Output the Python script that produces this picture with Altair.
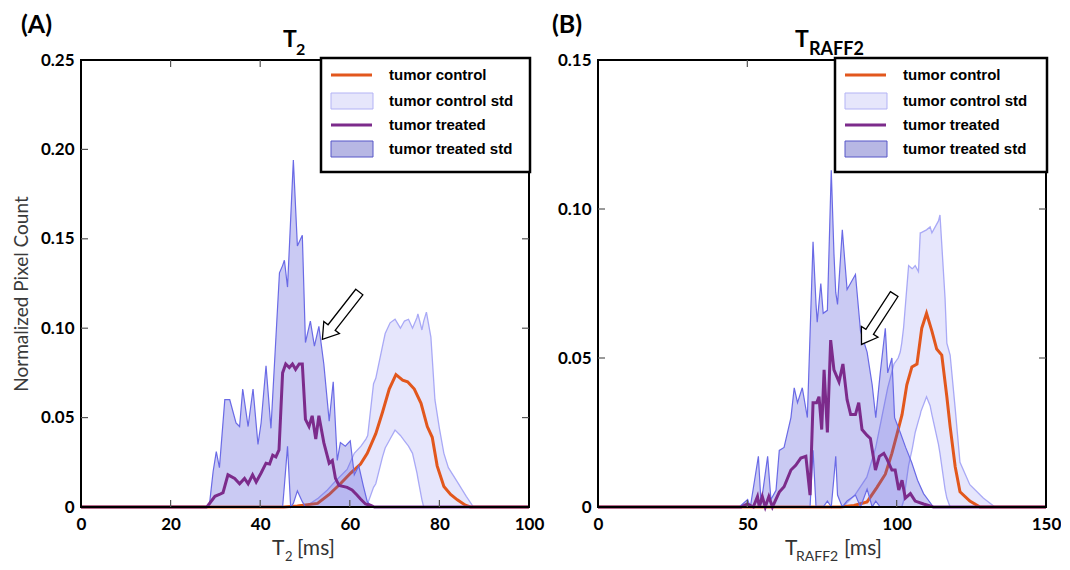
import altair as alt
import pandas as pd

# ---------------- Panel A : T2 ----------------
A_ctrl_mean_x = [0, 45.3, 48.3, 52.8, 55.4, 57.9, 60.2, 62.4, 63.9, 65.8, 67.3, 68.8, 70.3, 71.8, 72.9, 74.4,
                 75.9, 77.3, 78.4, 79.5, 81.0, 82.5, 84.0, 85.8, 86.9, 100]
A_ctrl_mean_y = [0, 0, 0.0005, 0.002, 0.007, 0.013, 0.019, 0.024, 0.030, 0.041, 0.053, 0.066, 0.074, 0.071, 0.070,
                 0.066, 0.058, 0.045, 0.039, 0.023, 0.0115, 0.007, 0.004, 0.001, 0, 0]

A_ctrl_band_x = [50.0, 53.0, 55.0, 57.0, 59.4, 61.0, 62.5, 63.6, 64.0, 65.3, 65.8, 67.3, 67.9, 69.0, 70.1, 71.3,
                 72.2, 73.1, 74.0, 75.0, 75.2, 76.1, 76.5, 77.1, 78.1, 79.0, 80.0, 81.0, 82.0, 84.0, 86.0, 87.6]
A_ctrl_upper = [0, 0.005, 0.0095, 0.015, 0.021, 0.030, 0.034, 0.038, 0.040, 0.069, 0.072, 0.090, 0.097, 0.103,
                0.105, 0.100, 0.104, 0.105, 0.100, 0.106, 0.108, 0.099, 0.104, 0.109, 0.095, 0.060, 0.044, 0.030,
                0.022, 0.014, 0.006, 0]
A_ctrl_lower = [0, 0, 0, 0, 0, 0, 0, 0, 0.002, 0.011, 0.013, 0.028, 0.033, 0.038, 0.043, 0.040, 0.037, 0.034,
                0.030, 0.019, 0.016, 0.004, 0, 0, 0, 0, 0, 0, 0, 0, 0, 0]

A_trt_mean_x = [0, 28.0, 28.4, 29.9, 30.9, 31.7, 32.8, 34.3, 35.4, 36.5, 37.3, 38.3, 39.1, 40.2, 41.3, 42.1, 42.8,
                43.5, 44.2, 45.0, 45.7, 46.5, 47.2, 47.9, 48.7, 49.4, 50.1, 50.9, 51.6, 52.4, 53.1, 54.2, 55.4,
                56.1, 56.8, 57.6, 59.4, 60.5, 61.6, 62.4, 63.5, 64.6, 65.5, 100]
A_trt_mean_y = [0, 0, 0.001, 0.006, 0.007, 0.008, 0.018, 0.016, 0.013, 0.016, 0.013, 0.018, 0.014, 0.019, 0.0245,
                0.024, 0.029, 0.028, 0.032, 0.075, 0.080, 0.078, 0.080, 0.077, 0.080, 0.080, 0.049, 0.045, 0.051,
                0.038, 0.051, 0.036, 0.0245, 0.026, 0.016, 0.012, 0.011, 0.0095, 0.0067, 0.0045, 0.0017, 0.001, 0, 0]

A_trt_band_x = [28.0, 28.7, 29.5, 30.2, 30.9, 32.1, 33.2, 34.6, 35.4, 36.1, 37.3, 38.4, 39.5, 40.2, 41.3, 42.4,
                44.3, 45.0, 45.4, 46.1, 46.8, 47.4, 48.3, 49.4, 50.1, 51.2, 52.1, 53.1, 54.2, 55.4, 56.3, 57.2,
                57.9, 59.0, 60.1, 61.0, 62.0, 63.0, 63.9, 65.0]
A_trt_upper = [0, 0.002, 0.020, 0.031, 0.022, 0.060, 0.060, 0.047, 0.045, 0.066, 0.045, 0.066, 0.035, 0.047,
               0.079, 0.044, 0.131, 0.135, 0.138, 0.123, 0.161, 0.194, 0.146, 0.152, 0.092, 0.104, 0.090, 0.101,
               0.080, 0.048, 0.070, 0.026, 0.036, 0.034, 0.037, 0.018, 0.023, 0.012, 0.003, 0]
A_trt_lower = [0, 0, 0, 0, 0, 0, 0, 0, 0, 0, 0, 0, 0, 0, 0, 0, 0, 0, 0.012, 0.034, 0, 0.002, 0.009, 0.003,
               0, 0, 0, 0, 0, 0, 0, 0, 0, 0, 0, 0, 0, 0, 0, 0]

A_x_labels = [0, 20, 40, 60, 80, 100]
A_y_labels = [0, 0.05, 0.10, 0.15, 0.20, 0.25]
A_x_ticks = [20, 40, 60, 80]
A_y_ticks = [0.05, 0.10, 0.15, 0.20]
A_arrow_at = [58.0, 0.107]

# ---------------- Panel B : TRAFF2 ----------------
B_ctrl_mean_x = [0, 81.2, 85.7, 90.1, 93.4, 96.2, 98.4, 100.0, 101.8, 103.4, 105.1, 106.8, 108.4, 110.0, 111.8,
                 113.4, 115.1, 116.8, 117.9, 119.6, 121.2, 124.5, 127.9, 150]
B_ctrl_mean_y = [0, 0, 0.0005, 0.0017, 0.0066, 0.011, 0.018, 0.024, 0.031, 0.041, 0.047, 0.048, 0.060, 0.065,
                 0.059, 0.053, 0.051, 0.037, 0.027, 0.0135, 0.0051, 0.002, 0, 0]

B_ctrl_band_x = [82.0, 86.0, 90.0, 93.0, 95.0, 97.0, 99.1, 100.5, 101.2, 101.7, 102.3, 104.0, 105.1, 105.3, 106.2,
                 107.3, 107.9, 108.1, 110.0, 111.2, 111.8, 114.0, 114.5, 116.2, 116.8, 117.9, 119.6, 121.2, 124.5,
                 129.0, 132.9]
B_ctrl_upper = [0, 0.004, 0.010, 0.020, 0.030, 0.040, 0.048, 0.050, 0.052, 0.055, 0.060, 0.081, 0.080, 0.080,
                0.081, 0.079, 0.092, 0.092, 0.093, 0.094, 0.092, 0.096, 0.098, 0.070, 0.055, 0.051, 0.033, 0.015,
                0.0075, 0.003, 0]
B_ctrl_lower = [0, 0, 0, 0, 0, 0, 0, 0, 0, 0, 0.002, 0.014, 0.019, 0.020, 0.025, 0.029, 0.031, 0.032, 0.037,
                0.034, 0.031, 0.021, 0.018, 0.006, 0.003, 0, 0, 0, 0, 0, 0]

B_trt_mean_x = [0, 47.9, 50.0, 52.0, 53.4, 54.0, 55.0, 56.0, 57.2, 58.4, 60.7, 62.3, 64.6, 66.2, 67.9, 69.6, 71.0,
                72.0, 73.2, 74.0, 74.9, 75.7, 76.8, 77.9, 79.0, 80.7, 82.0, 83.4, 84.6, 86.2, 87.3, 88.4, 90.1,
                91.2, 92.9, 94.2, 95.7, 96.8, 98.4, 99.5, 100.7, 101.8, 102.9, 104.6, 106.2, 109.0, 112.3, 150]
B_trt_mean_y = [0, 0, 0.001, 0, 0.0035, 0, 0.0035, 0, 0.0035, 0, 0.005, 0.0068, 0.0124, 0.014, 0.0164, 0.017,
                0.004, 0.035, 0.035, 0.037, 0.026, 0.046, 0.025, 0.056, 0.046, 0.042, 0.048, 0.036, 0.031, 0.031,
                0.035, 0.026, 0.024, 0.023, 0.0124, 0.017, 0.018, 0.016, 0.0124, 0.0124, 0.0057, 0.009, 0.003,
                0.0045, 0.002, 0.001, 0, 0]

B_trt_band_x = [47.3, 50.1, 51.0, 53.7, 54.6, 56.8, 57.9, 59.6, 60.7, 62.3, 64.6, 65.7, 66.8, 68.4, 70.1, 71.0,
                72.0, 73.0, 73.4, 74.6, 75.4, 76.8, 78.1, 79.0, 79.6, 80.2, 81.8, 83.4, 86.2, 87.9, 90.1, 91.8,
                93.0, 94.5, 96.2, 97.0, 98.4, 99.3, 101.2, 103.0, 105.0, 107.0, 109.0, 112.3]
B_trt_upper = [0, 0.0025, 0, 0.017, 0.001, 0.017, 0.0025, 0.0056, 0.019, 0.020, 0.030, 0.040, 0.035, 0.040,
               0.030, 0.058, 0.089, 0.068, 0.062, 0.075, 0.065, 0.066, 0.113, 0.085, 0.072, 0.068, 0.093, 0.073,
               0.078, 0.059, 0.052, 0.041, 0.030, 0.045, 0.060, 0.045, 0.050, 0.030, 0.025, 0.020, 0.015, 0.009,
               0.0045, 0]
B_trt_lower = [0, 0, 0, 0, 0, 0, 0, 0, 0, 0, 0, 0, 0, 0, 0, 0, 0.019, 0, 0, 0, 0, 0.002, 0, 0.010, 0.017,
               0.004, 0, 0.002, 0.004, 0, 0.006, 0, 0.002, 0, 0, 0, 0, 0, 0, 0, 0, 0, 0, 0]

B_x_labels = [0, 50, 100, 150]
B_y_labels = [0, 0.05, 0.10, 0.15]
B_x_ticks = [50, 100]
B_y_ticks = [0.05, 0.10]
B_arrow_at = [93.7, 0.063]

LEGEND_LABELS = ["tumor control", "tumor control std", "tumor treated", "tumor treated std"]

# ---------------- styles ----------------
ORANGE = "#E2571D"
PURPLE = "#7C2B8B"
CTRL_FILL = "#8080F0"
CTRL_EDGE = "#A9A9F6"
TRT_FILL = "#5050D8"
TRT_EDGE = "#6A6AE6"
NUMFONT = "Lato"
LEGFONT = "Liberation Sans"
H = 447
ARROW = "M -0.15 -1 L 0.15 -1 L 0.15 0.5 L 0.33 0.5 L 0 1 L -0.33 0.5 L -0.15 0.5 Z"
DUMMY = alt.Data(values=[{"k": 0}])


def txt(s, x, y, size, weight="normal", font=NUMFONT, color="black", align="left"):
    return alt.Chart(DUMMY).mark_text(text=s, fontSize=size, fontWeight=weight, font=font, color=color,
                                      align=align, baseline="alphabetic").encode(
        x=alt.value(x), y=alt.value(y))


def panel(d, W, xmax, ymax, ytitle, letter, letter_x, leg_left, title_parts, xtitle_parts, arrow_angle):
    xs = alt.Scale(domain=[0, xmax], nice=False, zero=False)
    ys = alt.Scale(domain=[0, ymax], nice=False)
    xax = alt.Axis(values=d["xl"], ticks=False, domain=False, grid=False, labelFont=NUMFONT,
                   labelFontSize=17, labelFontWeight="bold", labelColor="black", labelPadding=9,
                   labelFlush=False, title=None)
    yargs = dict(values=d["yl"], ticks=False, domain=False, grid=False, labelFont=NUMFONT,
                 labelFontSize=17, labelFontWeight="bold", labelColor="black", labelPadding=7,
                 labelExpr="datum.value == 0 ? '0' : format(datum.value, '.2f')")
    if ytitle:
        yax = alt.Axis(title=ytitle, titleFont=NUMFONT, titleFontSize=19, titleFontWeight="normal",
                       titleColor="#3a3a3a", titlePadding=9, titleY=H / 2 + 10, **yargs)
    else:
        yax = alt.Axis(title=None, **yargs)

    def X(f="x"):
        return alt.X(f + ":Q", scale=xs, axis=xax)

    def Y(f="y"):
        return alt.Y(f + ":Q", scale=ys, axis=yax)

    cband = pd.DataFrame({"x": d["cbx"], "hi": d["cbh"], "lo": d["cbl"]})
    tband = pd.DataFrame({"x": d["tbx"], "hi": d["tbh"], "lo": d["tbl"]})
    cmean = pd.DataFrame({"x": d["cmx"], "y": d["cmy"]})
    tmean = pd.DataFrame({"x": d["tmx"], "y": d["tmy"]})

    layers = [
        alt.Chart(cband).mark_area(color=CTRL_FILL, opacity=0.2).encode(x=X(), y=Y("hi"), y2="lo:Q"),
        alt.Chart(cband).mark_line(color=CTRL_EDGE, strokeWidth=1.3).encode(x=X(), y=Y("hi")),
        alt.Chart(cband).mark_line(color=CTRL_EDGE, strokeWidth=1.3).encode(x=X(), y=Y("lo")),
        alt.Chart(cmean).mark_line(color=ORANGE, strokeWidth=3).encode(x=X(), y=Y()),
        alt.Chart(tband).mark_area(color=TRT_FILL, opacity=0.3).encode(x=X(), y=Y("hi"), y2="lo:Q"),
        alt.Chart(tband).mark_line(color=TRT_EDGE, strokeWidth=1.2).encode(x=X(), y=Y("hi")),
        alt.Chart(tband).mark_line(color=TRT_EDGE, strokeWidth=1.2).encode(x=X(), y=Y("lo")),
        alt.Chart(tmean).mark_line(color=PURPLE, strokeWidth=3).encode(x=X(), y=Y()),
        alt.Chart(pd.DataFrame({"x": [d["arrow"][0]], "y": [d["arrow"][1]]})).mark_point(
            shape=ARROW, size=3600, filled=True, fill="white", stroke="black", strokeWidth=1.3,
            opacity=1, angle=arrow_angle).encode(x=X(), y=Y()),
    ]
    # frame
    layers.append(alt.Chart(DUMMY).mark_rect(fill="white", fillOpacity=0, stroke="black", strokeWidth=2).encode(
        x=alt.value(0), x2=alt.value(W), y=alt.value(0), y2=alt.value(H)))
    # inward ticks on all four sides
    xt = pd.DataFrame({"x": d["xt"]})
    yt = pd.DataFrame({"y": d["yt"]})
    tk = dict(color="#555555", strokeWidth=1.2)
    layers += [
        alt.Chart(xt).mark_rule(**tk).encode(x=X(), y=alt.value(H - 7), y2=alt.value(H)),
        alt.Chart(xt).mark_rule(**tk).encode(x=X(), y=alt.value(0), y2=alt.value(7)),
        alt.Chart(yt).mark_rule(**tk).encode(y=Y(), x=alt.value(0), x2=alt.value(7)),
        alt.Chart(yt).mark_rule(**tk).encode(y=Y(), x=alt.value(W - 7), x2=alt.value(W)),
    ]
    # legend
    L = leg_left
    layers.append(alt.Chart(DUMMY).mark_rect(fill="white", stroke="black", strokeWidth=2.5).encode(
        x=alt.value(L), x2=alt.value(W + 1), y=alt.value(-2), y2=alt.value(112)))
    rows = [15, 41, 65, 89]
    layers.append(alt.Chart(DUMMY).mark_rule(color=ORANGE, strokeWidth=3).encode(
        x=alt.value(L + 10), x2=alt.value(L + 51), y=alt.value(rows[0])))
    layers.append(alt.Chart(DUMMY).mark_rect(fill="#E6E6FB", stroke="#B3B3F5", strokeWidth=1).encode(
        x=alt.value(L + 10), x2=alt.value(L + 52), y=alt.value(rows[1] - 8), y2=alt.value(rows[1] + 8)))
    layers.append(alt.Chart(DUMMY).mark_rule(color=PURPLE, strokeWidth=3).encode(
        x=alt.value(L + 10), x2=alt.value(L + 51), y=alt.value(rows[2])))
    layers.append(alt.Chart(DUMMY).mark_rect(fill="#B7B7E4", stroke="#5656C8", strokeWidth=1).encode(
        x=alt.value(L + 10), x2=alt.value(L + 52), y=alt.value(rows[3] - 8), y2=alt.value(rows[3] + 8)))
    for lab, ry in zip(LEGEND_LABELS, rows):
        layers.append(txt(lab, L + 68, ry + 5, 15, weight="bold", font=LEGFONT))
    # panel letter and title
    layers.append(txt(letter, letter_x, -27, 25, weight="bold"))
    (tx, tmain, sx, tsub, ssize) = title_parts
    layers.append(txt(tmain, tx, -13, 23, weight="bold"))
    layers.append(txt(tsub, sx, -5, ssize, weight="bold"))
    # x-axis title with subscript
    (ax_, amain, bx_, asub, bsize, cx_, arest) = xtitle_parts
    layers.append(txt(amain, ax_, H + 48, 21, color="#333333"))
    layers.append(txt(asub, bx_, H + 54, bsize, color="#333333"))
    layers.append(txt(arest, cx_, H + 48, 21, color="#333333"))
    return alt.layer(*layers).properties(width=W, height=H)


A = panel(dict(cmx=A_ctrl_mean_x, cmy=A_ctrl_mean_y, cbx=A_ctrl_band_x, cbh=A_ctrl_upper, cbl=A_ctrl_lower,
               tmx=A_trt_mean_x, tmy=A_trt_mean_y, tbx=A_trt_band_x, tbh=A_trt_upper, tbl=A_trt_lower,
               xl=A_x_labels, yl=A_y_labels, xt=A_x_ticks, yt=A_y_ticks, arrow=A_arrow_at),
          448, 100, 0.25, "Normalized Pixel Count", "(A)", -60, 240,
          (202, "T", 215, "2", 16), (191, "T", 204, "2", 13, 216, "[ms]"), 38)

B = panel(dict(cmx=B_ctrl_mean_x, cmy=B_ctrl_mean_y, cbx=B_ctrl_band_x, cbh=B_ctrl_upper, cbl=B_ctrl_lower,
               tmx=B_trt_mean_x, tmy=B_trt_mean_y, tbx=B_trt_band_x, tbh=B_trt_upper, tbl=B_trt_lower,
               xl=B_x_labels, yl=B_y_labels, xt=B_x_ticks, yt=B_y_ticks, arrow=B_arrow_at),
          448, 150, 0.15, None, "(B)", -46, 237,
          (197, "T", 211, "RAFF2", 18), (187, "T", 198, "RAFF2", 14, 246, "[ms]"), 33)

chart = alt.hconcat(A, B, spacing=8).configure_view(strokeWidth=0).properties(
    padding={"left": 4, "top": 5, "right": 0, "bottom": 0})

chart.save("out.html", embed_options={"renderer": "svg", "actions": False})
